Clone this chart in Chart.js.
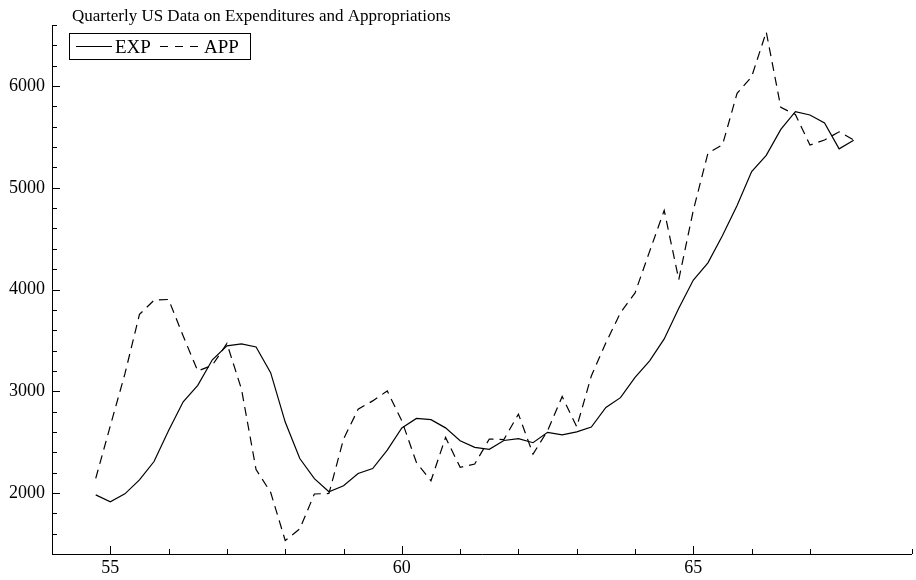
<!DOCTYPE html>
<html>
<head>
<meta charset="utf-8">
<title>Quarterly US Data on Expenditures and Appropriations</title>
<script src="https://cdn.jsdelivr.net/npm/chart.js@4.4.1/dist/chart.umd.min.js"></script>
<style>
  html, body { margin: 0; padding: 0; background: #fff; }
  #wrap { width: 916px; height: 580px; }
</style>
</head>
<body>
<div id="wrap"><canvas id="chart" width="916" height="580"></canvas></div>
<script>
// quarters as year:quarter, 1954Q4 .. 1967Q4
const quarters = [
  '54:4',
  '55:1', '55:2', '55:3', '55:4',
  '56:1', '56:2', '56:3', '56:4',
  '57:1', '57:2', '57:3', '57:4',
  '58:1', '58:2', '58:3', '58:4',
  '59:1', '59:2', '59:3', '59:4',
  '60:1', '60:2', '60:3', '60:4',
  '61:1', '61:2', '61:3', '61:4',
  '62:1', '62:2', '62:3', '62:4',
  '63:1', '63:2', '63:3', '63:4',
  '64:1', '64:2', '64:3', '64:4',
  '65:1', '65:2', '65:3', '65:4',
  '66:1', '66:2', '66:3', '66:4',
  '67:1', '67:2', '67:3', '67:4',
];

const expValues = [
  1981,
  1914, 1991, 2129, 2309,
  2614, 2896, 3058, 3309,
  3446, 3466, 3435, 3183,
  2697, 2338, 2140, 2012,
  2071, 2192, 2240, 2421,
  2639, 2733, 2721, 2640,
  2513, 2448, 2429, 2516,
  2534, 2494, 2596, 2572,
  2601, 2648, 2840, 2937,
  3136, 3299, 3514, 3815,
  4093, 4262, 4531, 4825,
  5160, 5319, 5574, 5749,
  5715, 5637, 5383, 5467,
];

const appValues = [
  2143,
  2660, 3170, 3755, 3895,
  3902, 3542, 3199, 3255,
  3470, 3020, 2230, 2007,
  1532, 1647, 1990, 1995,
  2530, 2823, 2905, 3003,
  2709, 2300, 2120, 2546,
  2252, 2284, 2530, 2525,
  2775, 2382, 2611, 2948,
  2650, 3150, 3477, 3771,
  3967, 4375, 4778, 4098,
  4780, 5340, 5422, 5929,
  6092, 6532, 5790, 5720,
  5420, 5470, 5550, 5470,
];

const xLabels = [55, 60, 65];
const yLabels = [2000, 3000, 4000, 5000, 6000];

const titleText = 'Quarterly US Data on Expenditures and Appropriations';
const serif = '"Liberation Serif", "DejaVu Serif", serif';

function quarterToX(q) {
  const [yr, qt] = q.split(':').map(Number);
  return yr + (qt - 1) / 4;
}

function toPoints(values) {
  return values.map((v, i) => ({ x: quarterToX(quarters[i]), y: v }));
}

// axis lines, inward ticks, title and boxed legend
const framePlugin = {
  id: 'frame',
  afterDraw(chart) {
    const ctx = chart.ctx;
    const area = chart.chartArea;
    const xs = chart.scales.x;
    const ys = chart.scales.y;

    ctx.save();
    ctx.strokeStyle = '#000';
    ctx.lineWidth = 1;

    ctx.beginPath();
    ctx.moveTo(area.left + 0.5, area.top);
    ctx.lineTo(area.left + 0.5, area.bottom + 0.5);
    ctx.lineTo(area.right, area.bottom + 0.5);
    ctx.stroke();

    ctx.beginPath();
    ys.ticks.forEach(t => {
      const py = Math.round(ys.getPixelForValue(t.value)) + 0.5;
      const len = yLabels.includes(t.value) ? 8 : 5;
      ctx.moveTo(area.left, py);
      ctx.lineTo(area.left + len, py);
    });
    xs.ticks.forEach(t => {
      const px = Math.round(xs.getPixelForValue(t.value)) + 0.5;
      const len = xLabels.includes(t.value) ? 8 : 5;
      ctx.moveTo(px, area.bottom);
      ctx.lineTo(px, area.bottom - len);
    });
    ctx.stroke();

    // title
    ctx.fillStyle = '#000';
    ctx.font = '17px ' + serif;
    ctx.textAlign = 'left';
    ctx.textBaseline = 'alphabetic';
    ctx.fillText(titleText, 72, 20.5);

    // legend box
    ctx.strokeRect(69.5, 33.5, 181, 26);
    ctx.font = '19px ' + serif;
    ctx.beginPath();
    ctx.moveTo(76, 46.5);
    ctx.lineTo(112, 46.5);
    ctx.stroke();
    ctx.fillText(chart.data.datasets[0].label, 115, 53);

    ctx.setLineDash([8, 7]);
    ctx.beginPath();
    ctx.moveTo(160, 46.5);
    ctx.lineTo(199, 46.5);
    ctx.stroke();
    ctx.setLineDash([]);
    ctx.fillText(chart.data.datasets[1].label, 204, 53);

    ctx.restore();
  }
};

new Chart(document.getElementById('chart'), {
  type: 'line',
  data: {
    datasets: [
      {
        label: 'EXP',
        data: toPoints(expValues),
        borderColor: '#000',
        borderWidth: 1.2,
        pointRadius: 0,
        tension: 0,
        fill: false,
      },
      {
        label: 'APP',
        data: toPoints(appValues),
        borderColor: '#000',
        borderWidth: 1.2,
        borderDash: [9, 6],
        pointRadius: 0,
        tension: 0,
        fill: false,
      },
    ],
  },
  options: {
    responsive: false,
    animation: false,
    layout: { padding: { top: 25, right: 4, left: 0, bottom: 0 } },
    plugins: {
      legend: { display: false },
      title: { display: false },
      tooltip: { enabled: false },
    },
    scales: {
      x: {
        type: 'linear',
        min: 54,
        max: 68.75,
        afterFit(scale) { scale.height = 26; },
        grid: { display: false, drawTicks: false },
        border: { display: false },
        ticks: {
          stepSize: 1,
          autoSkip: false,
          maxRotation: 0,
          padding: 3,
          color: '#000',
          font: { family: serif, size: 18 },
          callback: v => (xLabels.includes(v) ? String(v) : ''),
        },
      },
      y: {
        type: 'linear',
        min: 1400,
        max: 6600,
        afterFit(scale) { scale.width = 52; },
        grid: { display: false, drawTicks: false },
        border: { display: false },
        ticks: {
          stepSize: 200,
          autoSkip: false,
          padding: 7,
          color: '#000',
          font: { family: serif, size: 18 },
          callback: v => (yLabels.includes(v) ? String(v) : ''),
        },
      },
    },
  },
  plugins: [framePlugin],
});
</script>
</body>
</html>
